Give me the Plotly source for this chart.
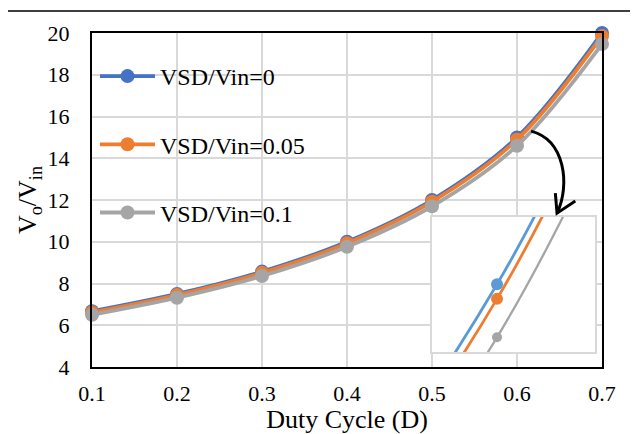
import plotly.graph_objects as go

duty = [0.1, 0.2, 0.3, 0.4, 0.5, 0.6, 0.7]
gain_0 = [6.67, 7.5, 8.57, 10.0, 12.0, 15.0, 20.0]
gain_005 = [6.62, 7.45, 8.51, 9.93, 11.92, 14.89, 19.86]
gain_01 = [6.5, 7.32, 8.36, 9.76, 11.7, 14.6, 19.47]
names = ["VSD/Vin=0", "VSD/Vin=0.05", "VSD/Vin=0.1"]
x_ticks = [0.1, 0.2, 0.3, 0.4, 0.5, 0.6, 0.7]
y_ticks = [4, 6, 8, 10, 12, 14, 16, 18, 20]

main_colors = ["#4472C4", "#ED7D31", "#A5A5A5"]
inset_colors = ["#5B9BD5", "#ED7D31", "#A5A5A5"]
series = [gain_0, gain_005, gain_01]

FONT = "Liberation Serif, Times New Roman, serif"
OFF = 8  # page body margin
W, H = 638 - OFF, 434 - OFF
L, R, T, B = 84, 36, 25, 67
pw, ph = W - L - R, H - T - B

def px(xp):
    return (xp - OFF - L) / pw

def py(yp):
    return (H - B - (yp - OFF)) / ph

fig = go.Figure()
for i, (vals, nm) in enumerate(zip(series, names)):
    fig.add_trace(go.Scatter(
        x=duty, y=vals, name=nm, mode="lines+markers", cliponaxis=False,
        line=dict(color=main_colors[i], width=3.8, shape="spline"),
        marker=dict(color=main_colors[i], size=14),
        legendgroup=nm, xaxis="x", yaxis="y"))

for i, (vals, nm) in enumerate(zip(series, names)):
    fig.add_trace(go.Scatter(
        x=duty, y=vals, name=nm, mode="lines+markers", showlegend=False,
        line=dict(color=inset_colors[i], width=2.8 if i < 2 else 2.3, shape="spline"),
        marker=dict(color=inset_colors[i], size=12 if i < 2 else 10),
        xaxis="x2", yaxis="y2"))

fig.update_layout(
    width=W, height=H,
    margin=dict(l=L, r=R, t=T, b=B, autoexpand=False),
    paper_bgcolor="white", plot_bgcolor="white",
    font=dict(family=FONT, color="black"),
    showlegend=True,
    legend=dict(x=px(95), y=py(54), xanchor="left", yanchor="top",
                font=dict(size=24, family=FONT), bgcolor="rgba(0,0,0,0)",
                tracegroupgap=34, itemwidth=55),
    xaxis=dict(range=[0.1, 0.7], tickvals=x_ticks, ticktext=[f"{v:.1f}" for v in x_ticks],
               showgrid=True, gridcolor="#D9D9D9", gridwidth=1.5,
               showline=True, linecolor="black", linewidth=2, mirror=True,
               ticks="", ticklabelstandoff=6, tickfont=dict(size=22, family=FONT),
               title=dict(text="Duty Cycle (D)", font=dict(size=26, family=FONT), standoff=12),
               zeroline=False, automargin=False),
    yaxis=dict(range=[4, 20], tickvals=y_ticks,
               showgrid=True, gridcolor="#D9D9D9", gridwidth=1.5,
               showline=True, linecolor="black", linewidth=2, mirror=True,
               ticks="", ticklabelstandoff=16, tickfont=dict(size=22, family=FONT),
               title=dict(text="V<sub>o</sub>/V<sub>in</sub>", font=dict(size=26, family=FONT), standoff=3),
               zeroline=False, automargin=False),
    xaxis2=dict(domain=[px(432), px(595)], anchor="y2", range=[0.5781, 0.633],
                showgrid=False, showticklabels=False, ticks="", zeroline=False,
                showline=True, linecolor="#D9D9D9", linewidth=2, mirror=True),
    yaxis2=dict(domain=[py(352), py(217)], anchor="x2", range=[14.489, 15.508],
                showgrid=False, showticklabels=False, ticks="", zeroline=False,
                showline=True, linecolor="#D9D9D9", linewidth=2, mirror=True),
)

# curved arrow (in main-axis coordinates)
fig.add_shape(type="path", xref="x", yref="y",
              path="M 0.6165,15.30 C 0.6568,14.87 0.6627,12.71 0.6471,11.37",
              line=dict(color="black", width=3))
fig.add_shape(type="path", xref="x", yref="y",
              path="M 0.6451,12.33 L 0.6471,11.37 L 0.6686,11.95",
              line=dict(color="black", width=3))

# outer frame
fig.add_shape(type="rect", xref="paper", yref="paper",
              x0=px(7), x1=px(660), y0=py(460), y1=py(11),
              line=dict(color="black", width=1.5), layer="above")

fig.write_html("out.html")
